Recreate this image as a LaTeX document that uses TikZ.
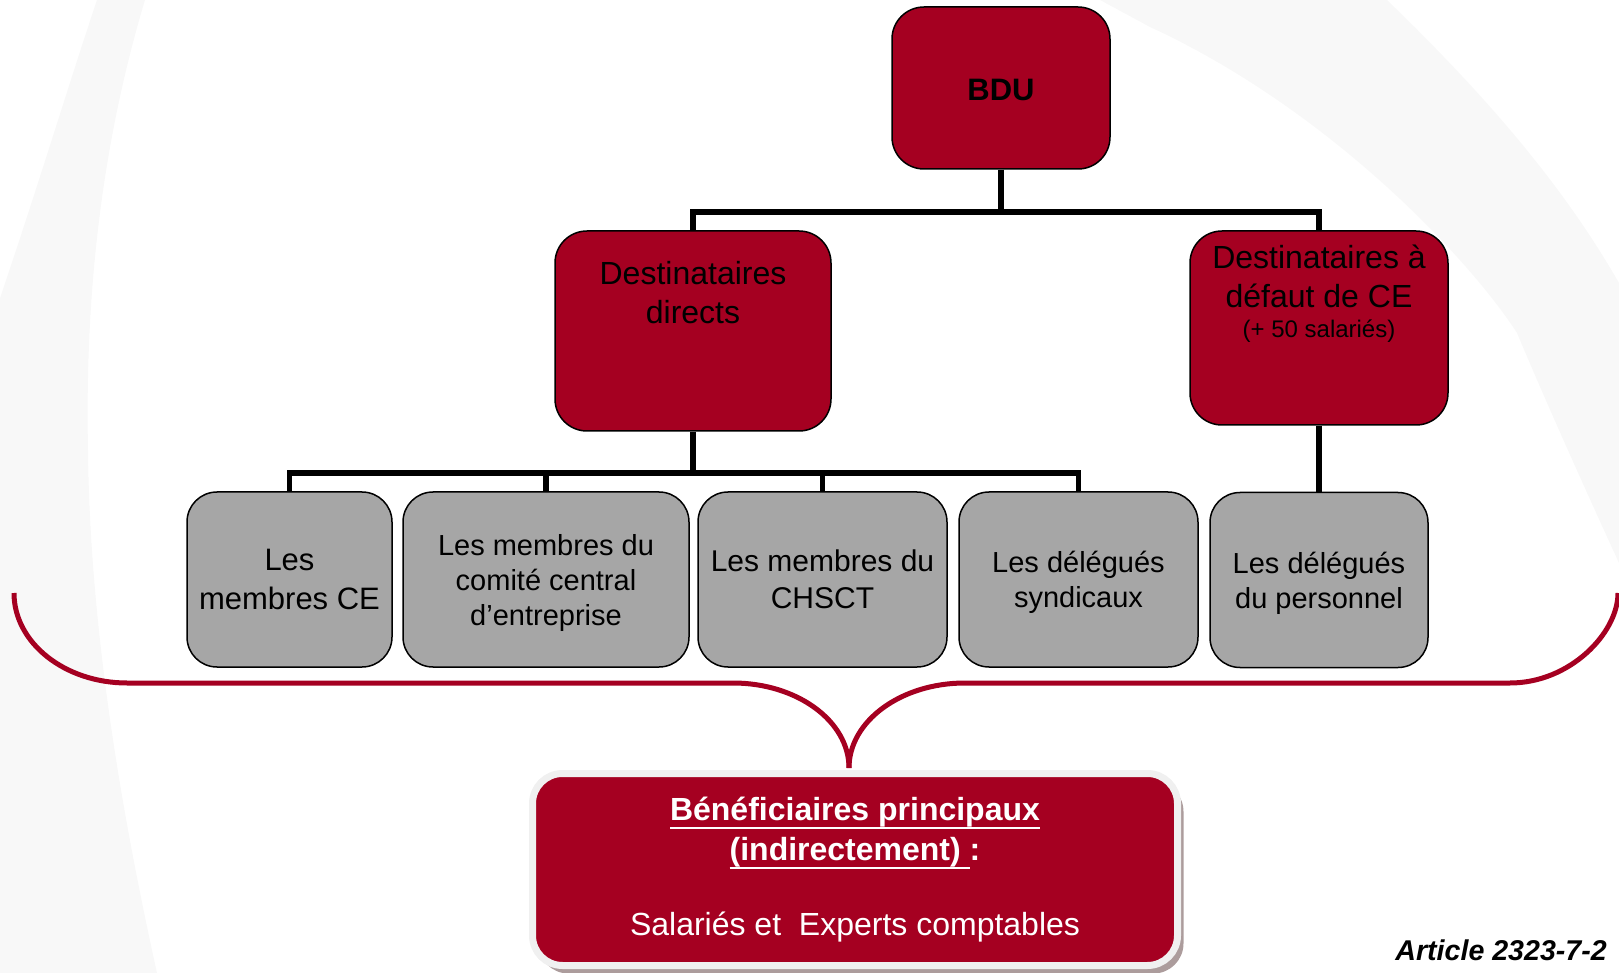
\documentclass[tikz,border=0pt]{standalone}
\usepackage{fontspec}
\setmainfont{Liberation Sans}
\usetikzlibrary{shadows}
\definecolor{bdured}{RGB}{165,0,33}
\definecolor{boxgray}{RGB}{166,166,166}
\definecolor{bgband}{RGB}{248,248,248}
\definecolor{rimgray}{RGB}{240,240,240}
\definecolor{shadegray}{RGB}{172,156,156}
\newcommand{\ulbox}[1]{\setbox0\hbox{#1}\rlap{\rule[-4.3pt]{\wd0}{1pt}}\box0}
\begin{document}
\begin{tikzpicture}[x=0.5pt,y=-0.5pt,
  redbox/.style={draw=black,line width=0.75pt,fill=bdured,rounded corners=16pt,inner sep=0pt},
  graybox/.style={draw=black,line width=0.75pt,fill=boxgray,rounded corners=15pt,
    minimum height=87.5pt,inner sep=0pt,align=center,text depth=0pt,
    font=\fontsize{14.5}{17.5}\selectfont},
  toptext/.style={anchor=north,inner sep=0pt,align=center,font=\fontsize{16}{19.5}\selectfont},
  conn/.style={line width=2.6pt},
  brace/.style={draw=bdured,line width=2.5pt}]
\useasboundingbox (0,0) rectangle (1619,973);
\fill[bgband] (97,0) -- (145,0) .. controls (100,150) and (85,300) .. (88,450)
  .. controls (90,650) and (130,850) .. (157,973) -- (0,973) -- (0,298)
  .. controls (40,180) and (70,80) .. (97,0) -- cycle;
\fill[bgband] (1100,0) -- (1387,0) .. controls (1480,90) and (1560,180) .. (1619,283)
  -- (1619,563) .. controls (1590,500) and (1545,400) .. (1517,333)
  .. controls (1470,260) and (1330,110) .. (1150,27) -- cycle;
\path (1001,88) node[redbox,minimum width=109pt,minimum height=81pt,text height=13pt,
  font=\fontsize{15.5}{18}\bfseries] (bdu) {BDU};
\path (693,331) node[redbox,minimum width=138pt,minimum height=100pt] (dd) {};
\path (1319,328) node[redbox,minimum width=129pt,minimum height=97pt] (dce) {};
\path (dd.north) ++(0,31) node[toptext] (ddtext) {Destinataires\\directs};
\path (dce.north) ++(0,14) node[toptext] (dcetext)
  {Destinataires à\\défaut de CE\\[-4.5pt]{\fontsize{12}{14}\selectfont(+ 50 salariés)}};
\path (289.5,579.5) node[graybox,minimum width=102.5pt,
  font=\fontsize{15.5}{19.5}\selectfont] (g1) {Les\\membres CE};
\path (546,579.5) node[graybox,minimum width=143pt] (g2) {Les membres du\\comité central\\d’entreprise};
\path (822.5,579.5) node[graybox,minimum width=124.5pt,
  font=\fontsize{15}{18.5}\selectfont] (g3) {Les membres du\\CHSCT};
\path (1078.5,579.5) node[graybox,minimum width=119.5pt] (g4) {Les délégués\\syndicaux};
\path (1319,580) node[graybox,minimum width=109pt] (g5) {Les délégués\\du personnel};
\coordinate (j1) at (1001,212);
\coordinate (j2) at (693,473);
\draw[conn] (bdu.south) -- (j1) -| (dd.north);
\draw[conn] (j1) -| (dce.north);
\draw[conn] (dd.south) -- (j2);
\foreach \g in {g1,g2,g3,g4}
  \draw[conn] (j2) -| (\g.north);
\draw[conn] (dce.south) -- (g5.north);
\coordinate (braceL) at (14,593);
\coordinate (braceR) at (1618,593);
\coordinate (braceTip) at (849,768);
\draw[brace] (braceL) .. controls (14,643) and (65,683) .. (127,683) -- (733,683)
  .. controls (797,683) and (849,721) .. (braceTip);
\draw[brace] (braceTip) .. controls (849,721) and (901,683) .. (965,683) -- (1510,683)
  .. controls (1570,683) and (1618,633) .. (braceR);
\path (855,869.5) node[fill=bdured,draw=rimgray,line width=3.5pt,rounded corners=15pt,
  minimum width=322.5pt,minimum height=96pt,inner sep=0pt,align=center,text=white,
  font=\fontsize{16}{20}\selectfont,
  drop shadow={shadow xshift=3pt,shadow yshift=-4pt,fill=shadegray,opacity=1}] (ben)
  {\textbf{\ulbox{Bénéficiaires principaux}}\\
   \textbf{\ulbox{(indirectement)\ }:}\\[17.5pt]
   Salariés et\ \ Experts comptables};
\path (1395,960) node[anchor=base west,inner sep=0pt,
  font=\fontsize{14.3}{16}\selectfont\bfseries\itshape] (art) {Article 2323-7-2};
\end{tikzpicture}
\end{document}
